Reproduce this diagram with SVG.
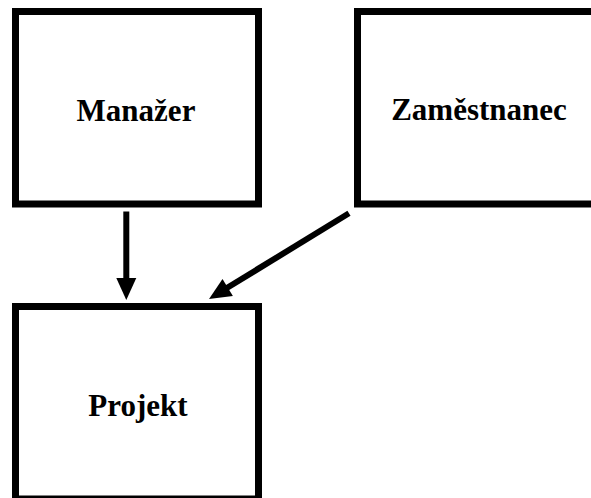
<svg xmlns="http://www.w3.org/2000/svg" width="591" height="498" viewBox="0 0 591 498">
<style>
.box{fill:#fff;stroke:#000;stroke-width:7}
.lbl{font-family:"Liberation Serif","Times New Roman",serif;font-weight:bold;font-size:31px;text-anchor:middle;fill:#000}
.ln{stroke:#000;stroke-width:6;fill:none}
.hd{fill:#000}
</style>
<rect width="591" height="498" fill="#fff"/>
<g id="manazer">
<rect class="box" x="15.5" y="11.5" width="243" height="192.5"/>
<text class="lbl" x="136" y="121">Manažer</text>
</g>
<g id="zamestnanec">
<rect class="box" x="357.5" y="11.5" width="243" height="192.5"/>
<text class="lbl" x="479" y="120">Zaměstnanec</text>
</g>
<g id="projekt">
<rect class="box" x="15.5" y="306.5" width="243" height="192.5"/>
<text class="lbl" x="138" y="416">Projekt</text>
</g>
<g id="connectors">
<line class="ln" x1="126.3" y1="211.5" x2="126.3" y2="280"/>
<polygon class="hd" points="116.3,278 136.3,278 126.3,300"/>
<line class="ln" x1="349" y1="213.3" x2="226" y2="288.5"/>
<polygon class="hd" points="209,299 222.5,279 232.9,296"/>
</g>
</svg>
